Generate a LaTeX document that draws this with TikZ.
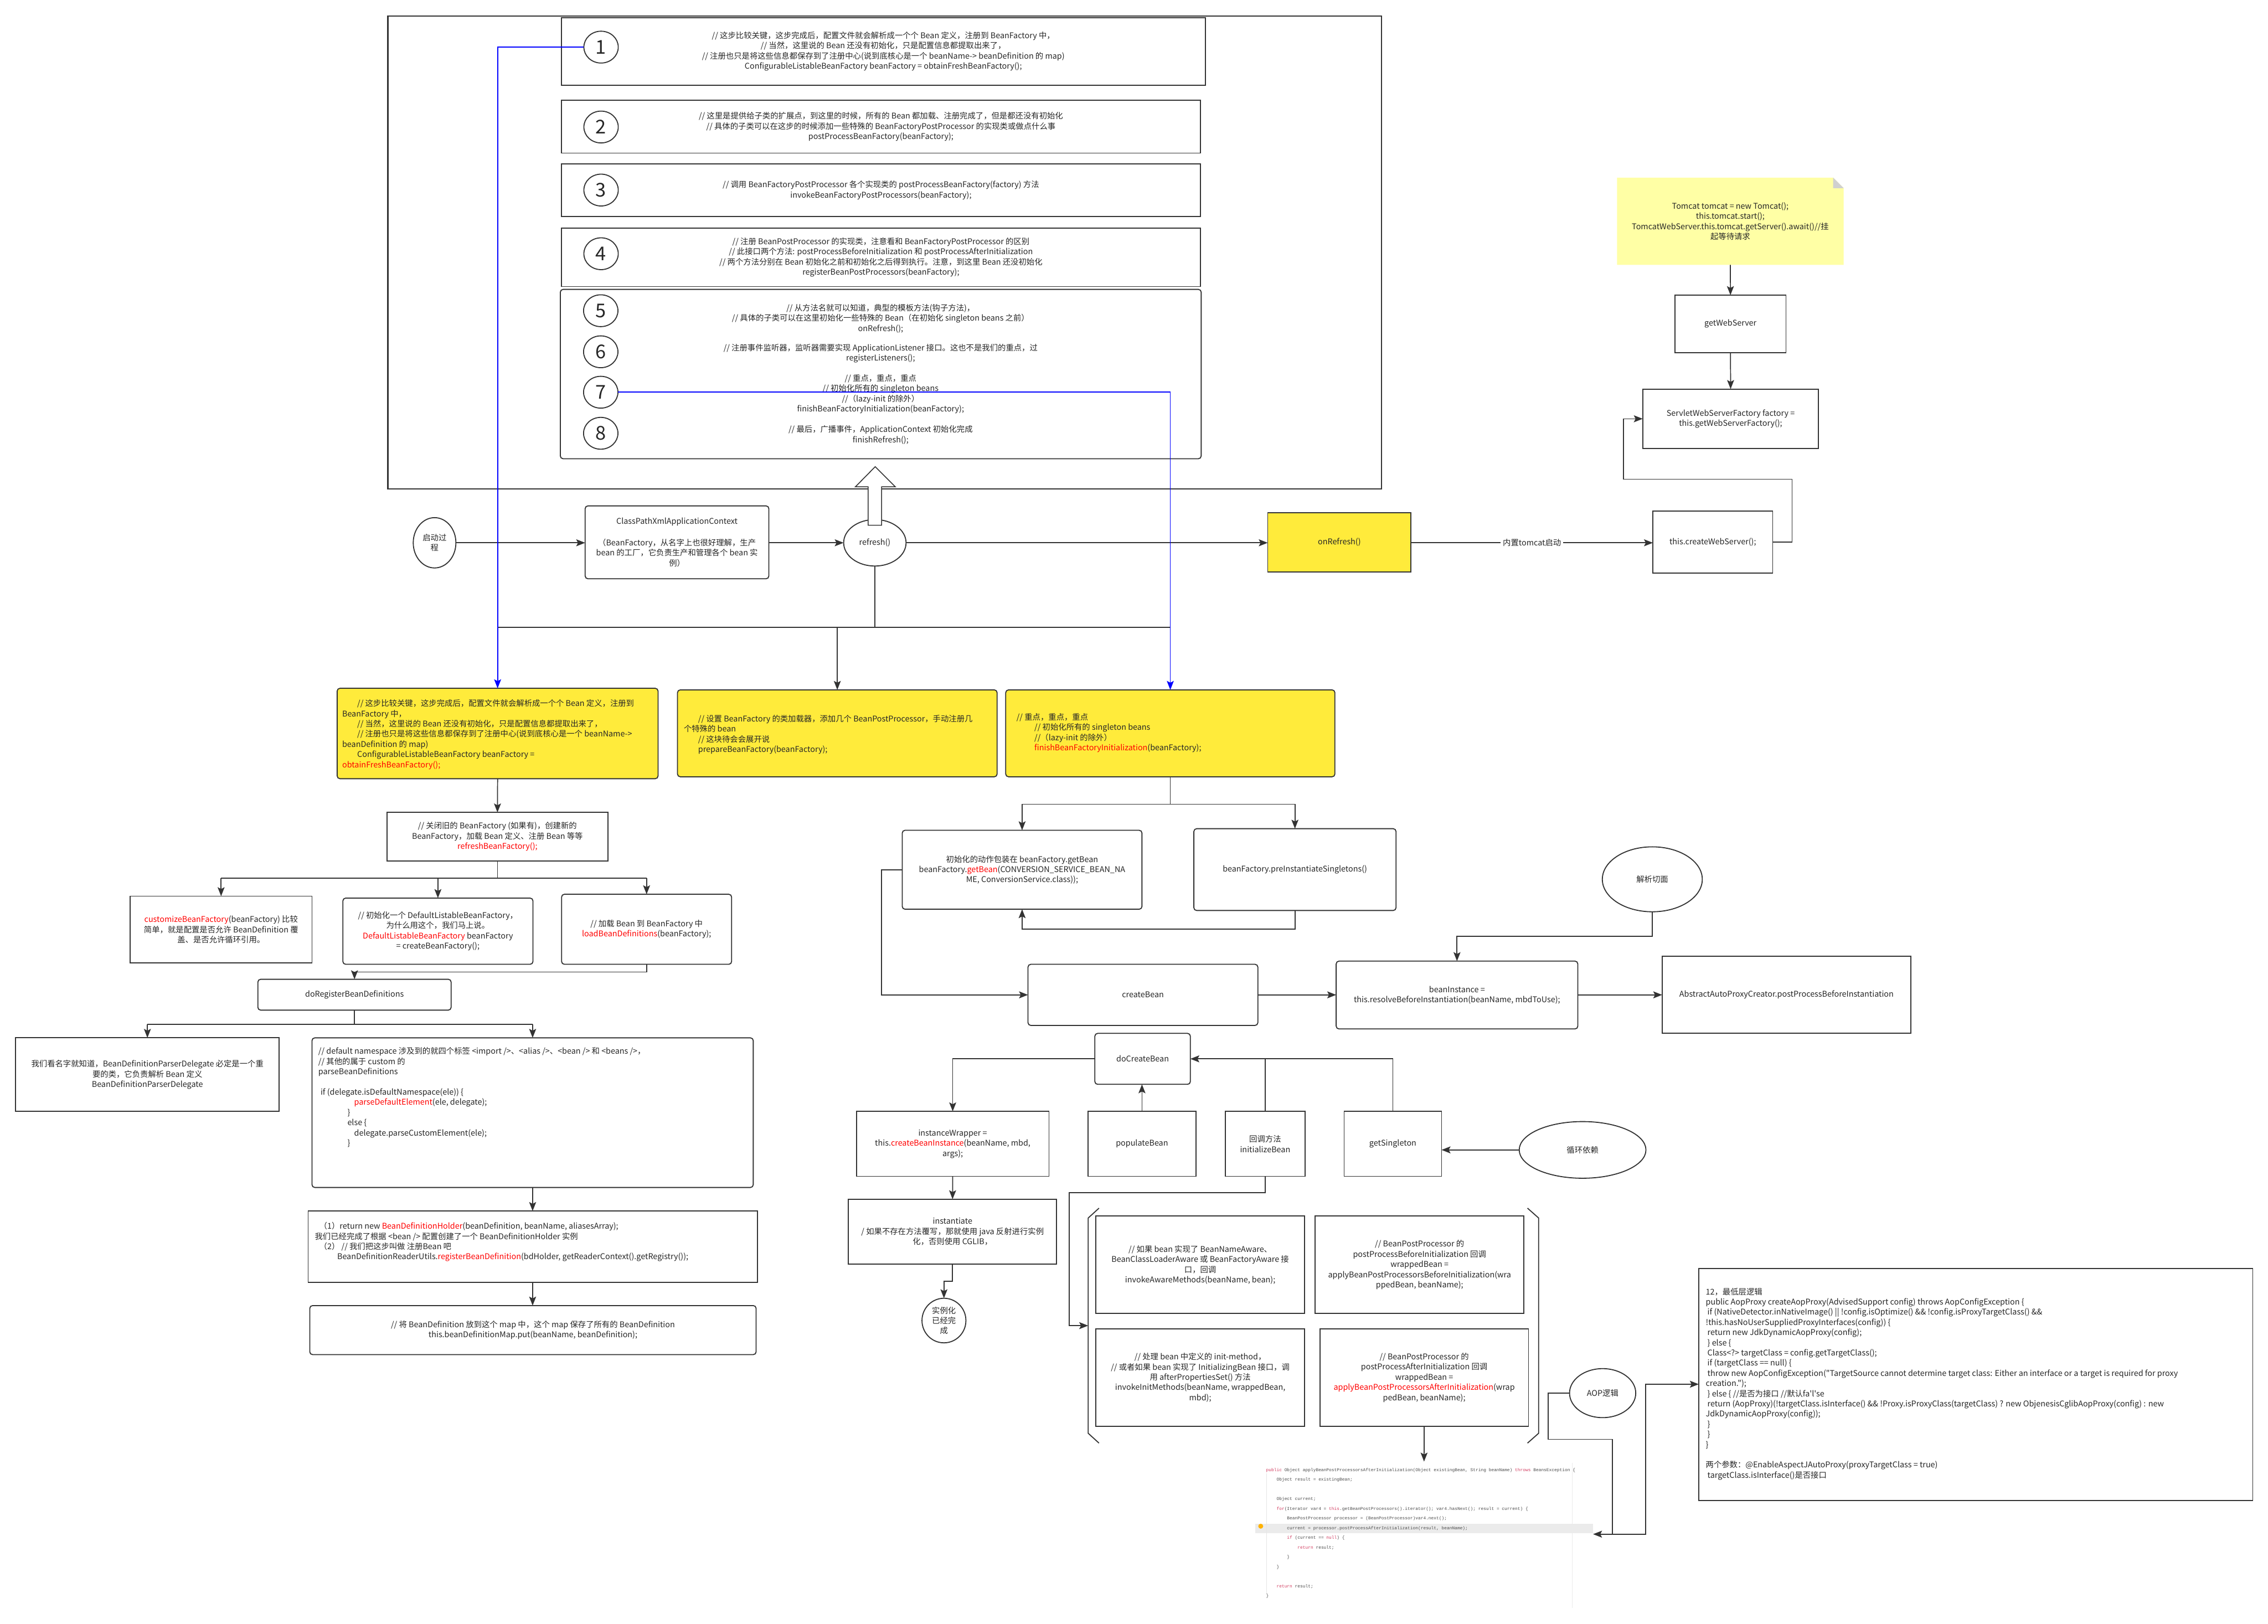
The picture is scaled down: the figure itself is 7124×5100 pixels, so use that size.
\documentclass[tikz,border=0pt]{standalone}
\usepackage{fontspec}
\setmainfont{Noto Sans CJK SC}[Ligatures=TeXOff]
\newfontfamily\codefont{Liberation Mono}
\usetikzlibrary{shapes.geometric,arrows.meta}
\definecolor{ln}{HTML}{333333}
\definecolor{tx}{HTML}{262626}
\definecolor{yel}{HTML}{FFEB3B}
\definecolor{notey}{HTML}{FFFFA5}
\definecolor{fold}{HTML}{D0D0D0}
\definecolor{kw}{HTML}{D23B5F}
\definecolor{cd}{HTML}{4A4A4A}
\definecolor{hl}{HTML}{EBEBEB}
\newcommand\rd[1]{\textcolor{red}{#1}}
\newcommand\mkbox[7][bxs]{\node[#1, minimum width={(#5-#3)*0.01cm}, minimum height={(#6-#4)*0.01cm}] (#2) at ({(#3+#5)/2},{(#4+#6)/2}) {#7};}
\newcommand\mkell[7][els]{\node[#1, minimum width={#5*0.01cm}, minimum height={#6*0.01cm}] (#2) at (#3,#4) {#7};}
\tikzset{
 tb/.style={font=\fontsize{7.1pt}{9.1pt}\selectfont, text=tx, inner sep=0pt, outer sep=0pt, align=center},
 bxs/.style={tb, draw=ln, line width=0.9pt, fill=white},
 rbxs/.style={bxs, rounded corners=2.5pt},
 ybxs/.style={rbxs, fill=yel},
 ybxsq/.style={bxs, fill=yel},
 els/.style={tb, ellipse, draw=ln, line width=0.9pt, fill=white},
 nums/.style={els, font=\fontsize{17pt}{20pt}\selectfont},
 con/.style={draw=ln, line width=0.85pt},
 arr/.style={con, -{Stealth[length=8pt,width=6.2pt,inset=1.6pt]}},
 bcon/.style={draw=blue, line width=0.9pt},
 barr/.style={bcon, -{Stealth[length=8pt,width=6.2pt,inset=1.6pt]}},
 ltxt/.style={tb, align=left, anchor=west},
}
\begin{document}
\begin{tikzpicture}[x=0.01cm, y=-0.01cm]
\useasboundingbox (0,0) rectangle (7124,5100);
\fill[white] (0,0) rectangle (7124,5100);

% ---------- top frame with refresh steps ----------
\mkbox[bxs, line width=1.2pt]{frame}{1218}{50}{4339}{1536}{}
\mkbox{s1}{1763}{55}{3786}{268}{// 这步比较关键，这步完成后，配置文件就会解析成一个个 Bean 定义，注册到 BeanFactory 中，\\// 当然，这里说的 Bean 还没有初始化，只是配置信息都提取出来了，\\// 注册也只是将这些信息都保存到了注册中心(说到底核心是一个 beanName-> beanDefinition 的 map)\\ConfigurableListableBeanFactory beanFactory = obtainFreshBeanFactory();}
\mkbox{s2}{1763}{315}{3771}{481}{// 这里是提供给子类的扩展点，到这里的时候，所有的 Bean 都加载、注册完成了，但是都还没有初始化\\// 具体的子类可以在这步的时候添加一些特殊的 BeanFactoryPostProcessor 的实现类或做点什么事\\postProcessBeanFactory(beanFactory);}
\mkbox{s3}{1763}{515}{3771}{680}{// 调用 BeanFactoryPostProcessor 各个实现类的 postProcessBeanFactory(factory) 方法\\invokeBeanFactoryPostProcessors(beanFactory);}
\mkbox{s4}{1763}{716}{3771}{900}{// 注册 BeanPostProcessor 的实现类，注意看和 BeanFactoryPostProcessor 的区别\\// 此接口两个方法: postProcessBeforeInitialization 和 postProcessAfterInitialization\\// 两个方法分别在 Bean 初始化之前和初始化之后得到执行。注意，到这里 Bean 还没初始化\\registerBeanPostProcessors(beanFactory);}
\mkbox[rbxs]{grp}{1760}{909}{3773}{1441}{}
\node[tb] (s5t) at (2766,1000) {// 从方法名就可以知道，典型的模板方法(钩子方法)，\\// 具体的子类可以在这里初始化一些特殊的 Bean（在初始化 singleton beans 之前）\\onRefresh();};
\node[tb] (s6t) at (2766,1110) {// 注册事件监听器，监听器需要实现 ApplicationListener 接口。这也不是我们的重点，过\\registerListeners();};
\node[tb] (s7t) at (2766,1238) {// 重点，重点，重点\\// 初始化所有的 singleton beans\\//（lazy-init 的除外）\\finishBeanFactoryInitialization(beanFactory);};
\node[tb] (s8t) at (2766,1366) {// 最后，广播事件，ApplicationContext 初始化完成\\finishRefresh();};
\mkell[nums]{c1}{1888}{148}{108}{100}{1}
\mkell[nums]{c2}{1888}{399}{108}{100}{2}
\mkell[nums]{c3}{1888}{597}{108}{100}{3}
\mkell[nums]{c4}{1888}{797}{108}{100}{4}
\mkell[nums]{c5}{1887}{976}{108}{100}{5}
\mkell[nums]{c6}{1887}{1105}{108}{100}{6}
\mkell[nums]{c7}{1887}{1232}{108}{100}{7}
\mkell[nums]{c8}{1887}{1361}{108}{100}{8}

% ---------- middle row ----------
\mkell{start}{1365}{1705}{134}{158}{启动过\\程}
\mkbox[rbxs]{cpx}{1838}{1589}{2415}{1818}{ClassPathXmlApplicationContext\\[10pt]（BeanFactory，从名字上也很好理解，生产\\bean 的工厂，它负责生产和管理各个 bean 实\\例）}
\mkell{refresh}{2748}{1705}{196}{146}{refresh()}
\mkbox[ybxsq]{onr}{3982}{1611}{4432}{1796}{onRefresh()}
\mkbox{cws}{5192}{1605}{5568}{1800}{this.createWebServer();}
\draw[arr] (start.east) -- (cpx.west |- start.east);
\draw[arr] (cpx.east |- refresh.west) -- (refresh.west);
\draw[arr] (refresh.east) -- (onr.west |- refresh.east);
\draw[arr] (onr.east |- refresh.east) -- (cws.west |- refresh.east) node[tb, midway, fill=white, inner sep=2pt] (lbltc) {内置tomcat启动};
% hollow arrow into the frame
\draw[ln, line width=0.8pt, fill=white] (2727,1650) -- (2727,1529) -- (2687,1529) -- (2749,1466) -- (2812,1529) -- (2769,1529) -- (2769,1650) -- cycle;

% ---------- tomcat ----------
\fill[notey] (5079,558) -- (5758,558) -- (5791,591) -- (5791,832) -- (5079,832) -- cycle;
\fill[fold] (5758,558) -- (5791,591) -- (5758,591) -- cycle;
\node[tb, minimum width=7.12cm, minimum height=2.74cm] (note) at (5435,695) {Tomcat tomcat = new Tomcat();\\this.tomcat.start();\\TomcatWebServer.this.tomcat.getServer().await()//挂\\起等待请求};
\mkbox{getws}{5261}{927}{5610}{1108}{getWebServer}
\mkbox{swsf}{5160}{1222}{5712}{1409}{ServletWebServerFactory factory =\\this.getWebServerFactory();}
\draw[arr] (note.south) -- (getws.north);
\draw[arr] (getws.south) -- (swsf.north);
\draw[arr] (cws.east) -- ++(61,0) -- ++(0,-197) -- ++(-529,0) |- (swsf.west);

% ---------- yellow row ----------
\mkbox[ybxs]{y1}{1059}{2162}{2067}{2446}{}
\node[ltxt] (y1t) at (1075,2307) {\hspace*{13.4pt}// 这步比较关键，这步完成后，配置文件就会解析成一个个 Bean 定义，注册到\\BeanFactory 中，\\\hspace*{13.4pt}// 当然，这里说的 Bean 还没有初始化，只是配置信息都提取出来了，\\\hspace*{13.4pt}// 注册也只是将这些信息都保存到了注册中心(说到底核心是一个 beanName->\\beanDefinition 的 map)\\\hspace*{13.4pt}ConfigurableListableBeanFactory beanFactory = \\\rd{obtainFreshBeanFactory();}};
\mkbox[ybxs]{y2}{2128}{2167}{3132}{2440}{}
\node[ltxt] (y2t) at (2148,2307) {\hspace*{12.8pt}// 设置 BeanFactory 的类加载器，添加几个 BeanPostProcessor，手动注册几\\个特殊的 bean\\\hspace*{12.8pt}// 这块待会会展开说\\\hspace*{12.8pt}prepareBeanFactory(beanFactory);};
\mkbox[ybxs]{y3}{3159}{2167}{4193}{2440}{}
\node[ltxt] (y3t) at (3193,2302) {// 重点，重点，重点\\\hspace*{16pt}// 初始化所有的 singleton beans\\\hspace*{16pt}//（lazy-init 的除外）\\\hspace*{16pt}\rd{finishBeanFactoryInitialization}(beanFactory);};

\coordinate (jL) at (1563,1970);
\coordinate (jR) at (3676,1970);
\draw[con] (refresh.south) -- (refresh.south |- jL);
\draw[con] (jL) -- (jR);
\draw[arr] (y2.north |- jL) -- (y2.north);

% ---------- left cluster ----------
\mkbox{rbf}{1216}{2552}{1909}{2704}{// 关闭旧的 BeanFactory (如果有)，创建新的\\BeanFactory，加载 Bean 定义、注册 Bean 等等\\\rd{refreshBeanFactory();}}
\mkbox{cust}{409}{2815}{980}{3024}{\rd{customizeBeanFactory}(beanFactory) 比较\\简单，就是配置是否允许 BeanDefinition 覆\\盖、是否允许循环引用。}
\mkbox[rbxs]{defl}{1077}{2821}{1674}{3029}{// 初始化一个 DefaultListableBeanFactory，\\为什么用这个，我们马上说。\\\rd{DefaultListableBeanFactory} beanFactory\\= createBeanFactory();}
\mkbox[rbxs]{load}{1764}{2809}{2298}{3029}{// 加载 Bean 到 BeanFactory 中\\\rd{loadBeanDefinitions}(beanFactory);}
\mkbox[rbxs]{doreg}{810}{3076}{1417}{3173}{doRegisterBeanDefinitions}
\mkbox{bdpd}{49}{3260}{877}{3491}{我们看名字就知道，BeanDefinitionParserDelegate 必定是一个重\\要的类，它负责解析 Bean 定义\\BeanDefinitionParserDelegate}
\mkbox[rbxs]{parse}{980}{3260}{2366}{3730}{}
\node[ltxt] (parset) at (1000,3447) {// default namespace 涉及到的就四个标签 <import />、<alias />、<bean /> 和 <beans />，\\// 其他的属于 custom 的\\parseBeanDefinitions\\[9.1pt]\hspace*{2pt}if (delegate.isDefaultNamespace(ele)) \{\\\hspace*{32pt}\rd{parseDefaultElement}(ele, delegate);\\\hspace*{26pt}\}\\\hspace*{26pt}else \{\\\hspace*{32pt}delegate.parseCustomElement(ele);\\\hspace*{26pt}\}};
\mkbox{holder}{968}{3804}{2379}{4028}{}
\node[ltxt] (holdert) at (989,3901) {\hspace*{4pt}（1）return new \rd{BeanDefinitionHolder}(beanDefinition, beanName, aliasesArray);\\我们已经完成了根据 <bean /> 配置创建了一个 BeanDefinitionHolder 实例\\\hspace*{4pt}（2） // 我们把这步叫做 注册Bean 吧\\\hspace*{20pt}BeanDefinitionReaderUtils.\rd{registerBeanDefinition}(bdHolder, getReaderContext().getRegistry());};
\mkbox[rbxs]{final}{973}{4101}{2375}{4255}{// 将 BeanDefinition 放到这个 map 中，这个 map 保存了所有的 BeanDefinition\\this.beanDefinitionMap.put(beanName, beanDefinition);}

\draw[arr] (y1.south) -- (rbf.north);
\coordinate (b1) at (1562,2758);
\draw[con] (rbf.south) -- (rbf.south |- b1);
\draw[con] (cust.north |- b1) -- (load.north |- b1);
\draw[arr] (cust.north |- b1) -- (cust.north);
\draw[arr] (defl.north |- b1) -- (defl.north);
\draw[arr] (load.north |- b1) -- (load.north);
\draw[arr] (load.south) -- ++(0,24) -| (doreg.north);
\coordinate (b2) at (1113,3217);
\draw[con] (doreg.south) -- (doreg.south |- b2);
\draw[con] (bdpd.north |- b2) -- (parse.north |- b2);
\draw[arr] (bdpd.north |- b2) -- (bdpd.north);
\draw[arr] (parse.north |- b2) -- (parse.north);
\draw[arr] (parse.south) -- (holder.north -| parse.south);
\draw[arr] (holder.south -| parse.south) -- (final.north -| parse.south);

% ---------- center cluster ----------
\mkbox[rbxs]{getbean}{2834}{2608}{3587}{2856}{初始化的动作包装在 beanFactory.getBean\\beanFactory.\rd{getBean}(CONVERSION\_SERVICE\_BEAN\_NA\\ME, ConversionService.class));}
\mkbox[rbxs]{preinst}{3750}{2603}{4385}{2860}{beanFactory.preInstantiateSingletons()}
\mkbox[rbxs]{createbean}{3229}{3029}{3951}{3221}{createBean}
\mkbox[rbxs]{beaninst}{4197}{3019}{4956}{3232}{beanInstance =\\this.resolveBeforeInstantiation(beanName, mbdToUse);}
\mkbox{abs}{5221}{3003}{6002}{3246}{AbstractAutoProxyCreator.postProcessBeforeInstantiation}
\mkell{jxqm}{5190}{2762}{314}{204}{解析切面}
\coordinate (b3) at (3676,2526);
\draw[con] (y3.south) -- (y3.south |- b3);
\draw[con] (getbean.north |- b3) -- (preinst.north |- b3);
\draw[arr] (getbean.north |- b3) -- (getbean.north);
\draw[arr] (preinst.north |- b3) -- (preinst.north);
\draw[arr] (preinst.south) -- ++(0,59) -| (getbean.south);
\draw[arr] (getbean.west) -- ++(-65,0) |- (createbean.west);
\draw[arr] (createbean.east) -- (beaninst.west |- createbean.east);
\draw[arr] (beaninst.east |- createbean.east) -- (abs.west |- createbean.east);
\draw[arr] (jxqm.south) -- ++(0,77) -| (beaninst.north);

\mkbox[rbxs]{docreate}{3439}{3246}{3739}{3406}{doCreateBean}
\mkbox{iw}{2690}{3491}{3295}{3695}{instanceWrapper =\\this.\rd{createBeanInstance}(beanName, mbd,\\args);}
\mkbox{populate}{3417}{3491}{3757}{3695}{populateBean}
\mkbox{initbean}{3849}{3491}{4099}{3695}{回调方法\\initializeBean}
\mkbox{getsing}{4222}{3491}{4528}{3695}{getSingleton}
\mkell{xhyl}{4971}{3612}{398}{178}{循环依赖}
\mkbox{inst}{2665}{3767}{3319}{3971}{instantiate\\/ 如果不存在方法覆写，那就使用 java 反射进行实例\\化，否则使用 CGLIB，}
\mkell{done}{2965}{4148}{138}{140}{实例化\\已经完\\成}
\draw[arr] (docreate.west) -| (iw.north);
\draw[arr] (populate.north) -- (docreate.south -| populate.north);
\draw[con] (initbean.north) -- (initbean.north |- docreate.east);
\draw[arr] (getsing.north) |- (docreate.east);
\draw[arr] (xhyl.west) -- (getsing.east |- xhyl.west);
\draw[arr] (iw.south) -- (inst.north);
\draw[arr] (inst.south) -- ++(0,53) -| (done.north);

% bracket group
\draw[con, line width=0.9pt] (3452,3795) -- (3418,3826) -- (3418,4502) -- (3452,4533);
\draw[con, line width=0.9pt] (4798,3795) -- (4833,3826) -- (4833,4502) -- (4798,4533);
\coordinate (brL) at (3418,4164);
\mkbox{ba}{3442}{3820}{4098}{4126}{// 如果 bean 实现了 BeanNameAware、\\BeanClassLoaderAware 或 BeanFactoryAware 接\\口，回调\\invokeAwareMethods(beanName, bean);}
\mkbox{bb}{4131}{3820}{4787}{4126}{// BeanPostProcessor 的\\postProcessBeforeInitialization 回调\\wrappedBean =\\applyBeanPostProcessorsBeforeInitialization(wra\\ppedBean, beanName);}
\mkbox{bc}{3442}{4174}{4098}{4480}{// 处理 bean 中定义的 init-method，\\// 或者如果 bean 实现了 InitializingBean 接口，调\\用 afterPropertiesSet() 方法\\invokeInitMethods(beanName, wrappedBean,\\mbd);}
\mkbox{bd}{4146}{4174}{4801}{4480}{// BeanPostProcessor 的\\postProcessAfterInitialization 回调\\wrappedBean =\\\rd{applyBeanPostProcessorsAfterInitialization}(wrap\\pedBean, beanName);}
\draw[arr] (initbean.south) -- ++(0,51) -- ++(-616,0) |- (brL);

% ---------- code snippet ----------
\fill[hl] (3943,4786) rectangle (5004,4816);
\draw[black!10, line width=0.4pt] (3978,4628) -- (3978,5005);
\draw[black!8, line width=0.4pt] (4938,4595) -- (4938,5050);
\fill[orange!60!yellow] (3960,4794) circle (2.2pt);
\node[tb, anchor=west, align=left, text=cd, font=\codefont\fontsize{3.9pt}{8.65pt}\selectfont] (code) at (3977,4816) {\textcolor{kw}{public} Object applyBeanPostProcessorsAfterInitialization(Object existingBean, String beanName) \textcolor{kw}{throws} BeansException \{\\\phantom{0000}Object result = existingBean;\\[8.65pt]\phantom{0000}Object current;\\\phantom{0000}\textcolor{kw}{for}(Iterator var4 = \textcolor{kw}{this}.getBeanPostProcessors().iterator(); var4.hasNext(); result = current) \{\\\phantom{00000000}BeanPostProcessor processor = (BeanPostProcessor)var4.next();\\\phantom{00000000}current = processor.postProcessAfterInitialization(result, beanName);\\\phantom{00000000}\textcolor{kw}{if} (current == \textcolor{kw}{null}) \{\\\phantom{000000000000}\textcolor{kw}{return} result;\\\phantom{00000000}\}\\\phantom{0000}\}\\[8.65pt]\phantom{0000}\textcolor{kw}{return} result;\\\}};
\coordinate (codein) at (4473,4591);
\coordinate (codeR) at (5004,4819);
\coordinate (codeR2) at (5065,4819);
\draw[arr] (bd.south) -- (codein);

% ---------- AOP ----------
\mkell{aop}{5034}{4376}{208}{154}{AOP逻辑}
\mkbox{aopbox}{5336}{3985}{7076}{4714}{}
\coordinate (aopin) at (5336,4348);
\node[ltxt] (aopt) at (5358,4347) {12，最低层逻辑\\public AopProxy createAopProxy(AdvisedSupport config) throws AopConfigException \{\\\hspace*{1.5pt}if (NativeDetector.inNativeImage() || !config.isOptimize() \&\& !config.isProxyTargetClass() \&\&\\!this.hasNoUserSuppliedProxyInterfaces(config)) \{\\\hspace*{1.5pt}return new JdkDynamicAopProxy(config);\\\hspace*{1.5pt}\} else \{\\\hspace*{1.5pt}Class<?> targetClass = config.getTargetClass();\\\hspace*{1.5pt}if (targetClass == null) \{\\\hspace*{1.5pt}throw new AopConfigException("TargetSource cannot determine target class: Either an interface or a target is required for proxy\\creation.");\\\hspace*{1.5pt}\} else \{ //是否为接口 //默认fa'l'se\\\hspace*{1.5pt}return (AopProxy)(!targetClass.isInterface() \&\& !Proxy.isProxyClass(targetClass) ? new ObjenesisCglibAopProxy(config) : new\\JdkDynamicAopProxy(config));\\\hspace*{1.5pt}\}\\\hspace*{1.5pt}\}\\\}\\[9.1pt]两个参数：@EnableAspectJAutoProxy(proxyTargetClass = true)\\\hspace*{1.5pt}targetClass.isInterface()是否接口};
\draw[arr] (aop.west) -- ++(-67,0) -- ++(0,145) -| (codeR2) -- (codeR);
\draw[arr] (codeR2) -- ++(104,0) |- (aopin);

% ---------- blue connectors (on top) ----------
\draw[barr] (c1.west) -| (y1.north);
\draw[barr] (c7.east) -| (y3.north);
\end{tikzpicture}
\end{document}
